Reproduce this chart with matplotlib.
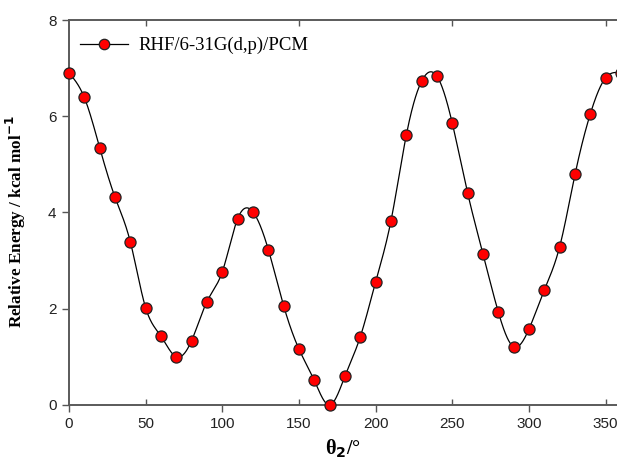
import numpy as np
import matplotlib
matplotlib.use("Agg")
from matplotlib import pyplot as plt
from matplotlib.ticker import MultipleLocator, FixedLocator, NullFormatter, FormatStrFormatter

# Relative energy scan over the dihedral angle theta_2
theta = [0, 10, 20, 30, 40, 50, 60, 70, 80, 90, 100, 110, 120, 130, 140, 150, 160, 170,
         180, 190, 200, 210, 220, 230, 240, 250, 260, 270, 280, 290, 300, 310, 320, 330,
         340, 350, 360]
energy = [6.90, 6.39, 5.35, 4.32, 3.39, 2.02, 1.43, 1.00, 1.34, 2.15, 2.77, 3.87, 4.01,
          3.23, 2.06, 1.16, 0.51, 0.00, 0.60, 1.42, 2.56, 3.83, 5.61, 6.73, 6.83, 5.85,
          4.40, 3.14, 1.93, 1.21, 1.58, 2.39, 3.29, 4.79, 6.05, 6.80, 6.90]
series_label = "RHF/6-31G(d,p)/PCM"


def natural_spline(x, y, xs):
    # plain natural cubic spline, so the connecting line runs smooth through the points
    x = np.asarray(x, float)
    y = np.asarray(y, float)
    n = len(x)
    h = np.diff(x)
    A = np.zeros((n, n))
    r = np.zeros(n)
    A[0, 0] = 1
    A[-1, -1] = 1
    for i in range(1, n - 1):
        A[i, i - 1] = h[i - 1]
        A[i, i] = 2 * (h[i - 1] + h[i])
        A[i, i + 1] = h[i]
        r[i] = 3 * ((y[i + 1] - y[i]) / h[i] - (y[i] - y[i - 1]) / h[i - 1])
    c = np.linalg.solve(A, r)
    b = (y[1:] - y[:-1]) / h - h * (2 * c[:-1] + c[1:]) / 3
    d = (c[1:] - c[:-1]) / (3 * h)
    idx = np.clip(np.searchsorted(x, xs) - 1, 0, n - 2)
    dx = xs - x[idx]
    return y[idx] + b[idx] * dx + c[idx] * dx ** 2 + d[idx] * dx ** 3


fig = plt.figure(figsize=(6.17, 4.63), dpi=100)
ax = fig.add_axes([0.1118, 0.1253, 0.8947, 0.8315])

xs = np.linspace(theta[0], theta[-1], 1500)
ax.plot(xs, natural_spline(theta, energy, xs), color="black", lw=0.9, clip_on=False, zorder=2)
ax.plot(theta, energy, "o", color="red", markeredgecolor="#222222", markeredgewidth=0.9,
        markersize=8, clip_on=False, zorder=3)

# legend entry: line with marker
ax.plot([], [], "-o", color="black", lw=0.9, markerfacecolor="red",
        markeredgecolor="#222222", markeredgewidth=0.9, markersize=7.5, label=series_label)
leg = ax.legend(loc="center left", frameon=False, handlelength=2.55, handletextpad=0.55,
                borderpad=0, borderaxespad=0, bbox_to_anchor=(0.02, 0.933),
                prop={"family": "Liberation Serif", "size": 13.5})

ax.set_xlim(0, 360)
ax.set_ylim(0, 8)

ax.xaxis.set_major_locator(FixedLocator([0, 100, 200, 300]))
ax.xaxis.set_minor_locator(FixedLocator([50, 150, 250, 350]))
ax.xaxis.set_major_formatter(FormatStrFormatter("%d"))
ax.xaxis.set_minor_formatter(FormatStrFormatter("%d"))
ax.yaxis.set_major_locator(MultipleLocator(2))
ax.yaxis.set_minor_formatter(NullFormatter())

ax.tick_params(axis="x", which="major", direction="out", length=5, width=1.0,
               color="#555555", top=False, labelsize=11, pad=4)
ax.tick_params(axis="x", which="minor", direction="in", length=4, width=1.0,
               color="#555555", top=True, bottom=True, labelsize=11, pad=9)
ax.tick_params(axis="y", which="major", direction="out", length=5, width=1.0,
               color="#555555", right=False, labelsize=11, pad=4)
for lab in ax.get_xticklabels(which="both") + ax.get_yticklabels():
    lab.set_family("Liberation Sans")
    lab.set_color("#222222")

for side in ["left", "bottom", "top"]:
    ax.spines[side].set_color("#5a5a5a")
    ax.spines[side].set_linewidth(1.4)
ax.spines["right"].set_visible(False)

ax.set_ylabel("Relative Energy / kcal mol$^{\\mathbf{-1}}$", family="Liberation Serif",
              fontweight="bold", fontsize=12.3)
ax.yaxis.set_label_coords(-0.074, 0.477)
ax.set_xlabel("θ$_{\\mathbf{2}}$/°", family="Liberation Serif", fontweight="bold",
              fontsize=14.5)
ax.xaxis.set_label_coords(0.497, -0.085)

fig.savefig("out.png", dpi=100)
